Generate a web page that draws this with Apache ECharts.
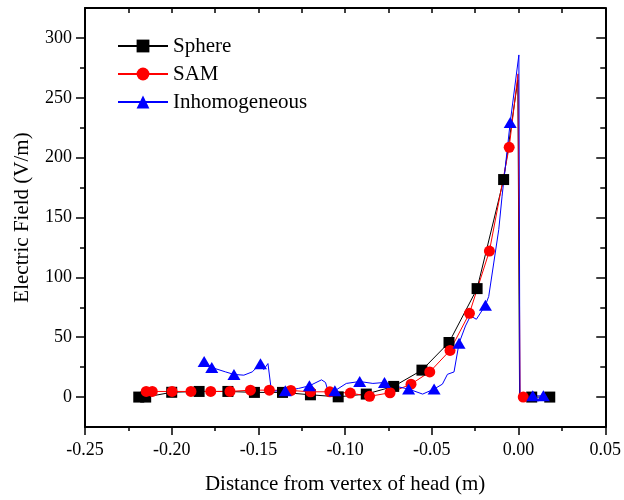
<!DOCTYPE html>
<html>
<head>
<meta charset="utf-8">
<script src="https://cdn.jsdelivr.net/npm/echarts@6/dist/echarts.min.js"></script>
<style>html,body{margin:0;padding:0;background:#fff}#c{width:624px;height:500px}</style>
</head>
<body>
<div id="c"></div>
<script>
// ---- data ----
var sphereX = [-0.219, -0.215, -0.200, -0.1842, -0.1676, -0.1523, -0.1361, -0.120, -0.104, -0.0878, -0.072, -0.0557, -0.0401, -0.0239, -0.0086, -0.0004, 0.0006, 0.0076, 0.018];
var sphereY = [0, 0, 4, 4.7, 4.7, 3.9, 3.9, 1.9, 0.2, 2.5, 8.9, 22.5, 45.6, 90.6, 181.7, 265, 0, 0, 0];
var sphereM = [1,1,1,1,1,1,1,1,1,1,1,1,1,1,1,0,0,1,1];

var samX = [-0.2147, -0.2112, -0.1998, -0.1889, -0.1775, -0.1664, -0.1546, -0.1437, -0.1313, -0.1199, -0.1088, -0.097, -0.0859, -0.0741, -0.062, -0.0512, -0.0395, -0.0283, -0.0168, -0.0054, -0.0003, 0.0009, 0.0027];
var samY = [4.7, 4.7, 4.7, 4.7, 4.7, 4.7, 5.8, 5.8, 5.5, 4.4, 4.4, 3.3, 0.6, 3.6, 10.8, 21, 39, 70, 122, 208.6, 270, 0, 0];
var samM = [1,1,1,1,1,1,1,1,1,1,1,1,1,1,1,1,1,1,1,1,0,0,1];

var inhoX = [-0.1813, -0.1769, -0.1689, -0.1641, -0.1584, -0.1536, -0.1488, -0.1469, -0.1445, -0.1425, -0.1345, -0.1269, -0.1206, -0.1136, -0.1113, -0.1101, -0.1059, -0.0993, -0.0916, -0.084, -0.0773, -0.0706, -0.0634, -0.0553, -0.0487, -0.0439, -0.041, -0.0372, -0.0343, -0.0306, -0.0277, -0.0243, -0.0191, -0.0172, -0.0143, -0.0114, -0.0095, -0.0048, 0.0002, 0.0008, 0.0082, 0.0143];
var inhoY = [29.7, 24.7, 21, 18.9, 18.3, 21, 27.8, 23, 28, 5, 5.3, 7.2, 9.4, 14.4, 12.2, 6, 5.3, 11.4, 13, 11.4, 12.2, 8.9, 6.7, 2.5, 6.7, 10.8, 19, 21, 45, 59.4, 67.8, 65, 76.7, 84, 112, 140, 167.8, 229.4, 285.8, 0, 1, 1];
var inhoM = [1,1,0,1,0,0,1,0,0,0,1,0,1,0,0,0,1,0,1,0,1,0,1,0,1,0,0,0,1,0,0,0,1,0,0,0,0,1,0,0,1,1];

var seriesNames = ['Sphere', 'SAM', 'Inhomogeneous'];
var xTitle = 'Distance from vertex of head (m)';
var yTitle = 'Electric Field (V/m)';
var yMajor = [0, 50, 100, 150, 200, 250, 300];
var yMinor = [25, 75, 125, 175, 225, 275];

// ---- build ----
function build(xs, ys, ms) {
  return xs.map(function (x, i) {
    var d = { value: [x, ys[i]] };
    if (!ms[i]) d.symbol = 'none';
    return d;
  });
}
var FONT = 'Liberation Serif';
var chart = echarts.init(document.getElementById('c'), null, { renderer: 'canvas' });

var baseLine = { show: true, onZero: false, lineStyle: { color: '#000', width: 2 } };
var noLine = { show: false, onZero: false };
chart.setOption({
  animation: false,
  backgroundColor: '#fff',
  grid: { left: 85, right: 15, top: 8, bottom: 71, containLabel: false },
  legend: {
    orient: 'vertical', left: 112, top: 29,
    itemWidth: 50, itemHeight: 16, itemGap: 4,
    textStyle: { fontFamily: FONT, fontSize: 21, color: '#000', lineHeight: 24 },
    data: seriesNames
  },
  xAxis: [
    {
      type: 'value', position: 'bottom', min: -0.25, max: 0.05, interval: 0.05,
      axisLine: baseLine,
      axisTick: { show: true, length: 8, lineStyle: { color: '#000', width: 1.5 } },
      minorTick: { show: true, splitNumber: 2, length: 4, lineStyle: { color: '#000', width: 1.5 } },
      splitLine: { show: false }, minorSplitLine: { show: false },
      axisLabel: { fontFamily: FONT, fontSize: 18, color: '#000', margin: 14,
        formatter: function (v) { return v.toFixed(2); } },
      name: xTitle, nameLocation: 'middle', nameGap: 47,
      nameTextStyle: { fontFamily: FONT, fontSize: 21, color: '#000' }
    },
    {
      type: 'value', position: 'top', min: -0.25, max: 0.05, interval: 0.05,
      axisLine: baseLine,
      axisTick: { show: true, inside: true, length: 5, lineStyle: { color: '#000', width: 1.5 } },
      minorTick: { show: true, splitNumber: 2, length: 5, lineStyle: { color: '#000', width: 1.5 } },
      splitLine: { show: false }, axisLabel: { show: false }
    }
  ],
  yAxis: [
    {
      type: 'value', position: 'left', min: -25, max: 325,
      axisLine: baseLine,
      axisTick: { show: true, length: 9, customValues: yMajor, lineStyle: { color: '#000', width: 1.5 } },
      splitLine: { show: false },
      axisLabel: { fontFamily: FONT, fontSize: 18, color: '#000', margin: 13, customValues: yMajor },
      name: yTitle, nameLocation: 'middle', nameGap: 52,
      nameTextStyle: { fontFamily: FONT, fontSize: 21, color: '#000' }
    },
    {
      type: 'value', position: 'left', min: -25, max: 325,
      axisLine: noLine,
      axisTick: { show: true, length: 5, customValues: yMinor, lineStyle: { color: '#000', width: 1.5 } },
      splitLine: { show: false }, axisLabel: { show: false }
    },
    {
      type: 'value', position: 'right', min: -25, max: 325,
      axisLine: baseLine,
      axisTick: { show: true, inside: true, length: 9, customValues: yMajor, lineStyle: { color: '#000', width: 1.5 } },
      splitLine: { show: false }, axisLabel: { show: false }
    },
    {
      type: 'value', position: 'right', min: -25, max: 325,
      axisLine: noLine,
      axisTick: { show: true, inside: true, length: 5, customValues: yMinor, lineStyle: { color: '#000', width: 1.5 } },
      splitLine: { show: false }, axisLabel: { show: false }
    }
  ],
  series: [
    {
      name: seriesNames[0], type: 'line', xAxisIndex: 0, yAxisIndex: 0,
      data: build(sphereX, sphereY, sphereM),
      symbol: 'rect', symbolSize: 11,
      lineStyle: { color: '#000', width: 1 }, itemStyle: { color: '#000' }
    },
    {
      name: seriesNames[1], type: 'line', xAxisIndex: 0, yAxisIndex: 0,
      data: build(samX, samY, samM),
      symbol: 'circle', symbolSize: 11,
      lineStyle: { color: '#ff0000', width: 1 }, itemStyle: { color: '#ff0000' }
    },
    {
      name: seriesNames[2], type: 'line', xAxisIndex: 0, yAxisIndex: 0,
      data: build(inhoX, inhoY, inhoM),
      symbol: 'triangle', symbolSize: [13, 11],
      lineStyle: { color: '#0000ff', width: 1 }, itemStyle: { color: '#0000ff' }
    }
  ]
});
</script>
</body>
</html>
